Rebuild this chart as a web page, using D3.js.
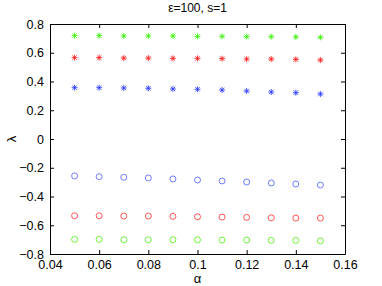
<!DOCTYPE html>
<html><head><meta charset="utf-8">
<script src="https://cdn.jsdelivr.net/npm/d3@7"></script>
<style>body{margin:0;background:#fff}svg{display:block}text{font-family:Helvetica,"Liberation Sans",Arial,sans-serif}</style>
</head><body><svg id="c" width="382" height="286"></svg>
<script>
const alphas = [0.05,0.06,0.07,0.08,0.09,0.10,0.11,0.12,0.13,0.14,0.15];
const greenStar = [0.719,0.719,0.717,0.717,0.717,0.714,0.714,0.712,0.712,0.710,0.707];
const redStar   = [0.566,0.566,0.563,0.563,0.561,0.561,0.559,0.556,0.556,0.554,0.549];
const blueStar  = [0.357,0.357,0.355,0.353,0.348,0.346,0.341,0.334,0.327,0.322,0.313];
const blueCirc  = [-0.257,-0.262,-0.266,-0.271,-0.278,-0.285,-0.292,-0.299,-0.306,-0.313,-0.320];
const redCirc   = [-0.534,-0.534,-0.536,-0.536,-0.538,-0.541,-0.543,-0.545,-0.548,-0.550,-0.550];
const greenCirc = [-0.698,-0.698,-0.701,-0.701,-0.701,-0.701,-0.703,-0.703,-0.705,-0.705,-0.708];
const xTicks = [0.04,0.06,0.08,0.10,0.12,0.14,0.16];
const yTicks = [-0.8,-0.6,-0.4,-0.2,0,0.2,0.4,0.6,0.8];
const title = "ε=100, s=1";

const svg = d3.select("#c");
const L=50, R=345, T=24, B=254;
const x = d3.scaleLinear().domain([0.04,0.16]).range([L,R]);
const y = d3.scaleLinear().domain([-0.8,0.8]).range([B,T]);

const series = [
  {v:greenStar, c:"#33ee00", m:"star"},
  {v:redStar, c:"#ff1111", m:"star"},
  {v:blueStar, c:"#2233ff", m:"star"},
  {v:blueCirc, c:"#4455ff", m:"circ"},
  {v:redCirc, c:"#ff2222", m:"circ"},
  {v:greenCirc, c:"#44ee00", m:"circ"}
];

const fmt = d => d===0 ? "0" : (d<0 ? "\u2212" : "") + String(Math.abs(+d.toFixed(2)));

const gx = svg.append("g").attr("transform",`translate(0,${B})`).call(d3.axisBottom(x).tickValues(xTicks).tickSizeInner(-4).tickSizeOuter(0).tickPadding(6).tickFormat(fmt));
const gxt = svg.append("g").attr("transform",`translate(0,${T})`).call(d3.axisTop(x).tickValues(xTicks).tickSizeInner(-4).tickSizeOuter(0).tickFormat(""));
const gy = svg.append("g").attr("transform",`translate(${L},0)`).call(d3.axisLeft(y).tickValues(yTicks).tickSizeInner(-4).tickSizeOuter(0).tickPadding(6).tickFormat(fmt));
const gyr = svg.append("g").attr("transform",`translate(${R},0)`).call(d3.axisRight(y).tickValues(yTicks).tickSizeInner(-4).tickSizeOuter(0).tickFormat(""));
[gx,gxt,gy,gyr].forEach(g=>{
  g.select(".domain").attr("stroke","#000").attr("stroke-width",1);
  g.selectAll(".tick line").attr("stroke","#000").attr("stroke-width",1);
  g.selectAll("text").attr("font-size",12.5).attr("fill","#000").attr("font-family","Helvetica,'Liberation Sans',Arial,sans-serif");
});
gx.selectAll("text").attr("dy","0.71em");

series.forEach(s=>{
  const g = svg.append("g");
  const pts = alphas.map((a,i)=>[x(a), y(s.v[i])]);
  if(s.m==="circ"){
    g.selectAll("circle").data(pts).join("circle")
      .attr("cx",d=>d[0]).attr("cy",d=>d[1]).attr("r",3)
      .attr("fill","none").attr("stroke",s.c).attr("stroke-width",0.9).attr("opacity",0.85);
  } else {
    const r=3, rd=2.2;
    g.selectAll("path").data(pts).join("path")
      .attr("d",d=>`M${d[0]-r},${d[1]}h${2*r}M${d[0]},${d[1]-r}v${2*r}M${d[0]-rd},${d[1]-rd}l${2*rd},${2*rd}M${d[0]-rd},${d[1]+rd}l${2*rd},${-2*rd}`)
      .attr("fill","none").attr("stroke",s.c).attr("stroke-width",1).attr("opacity",0.8);
  }
});

svg.append("text").attr("x",(L+R)/2).attr("y",12).attr("text-anchor","middle").attr("font-size",12).text(title);
svg.append("text").attr("x",(L+R)/2).attr("y",283).attr("text-anchor","middle").attr("font-size",13).text("α");
svg.append("text").attr("transform",`translate(16,${(T+B)/2}) rotate(-90)`).attr("text-anchor","middle").attr("font-size",13).text("λ");
</script></body></html>
